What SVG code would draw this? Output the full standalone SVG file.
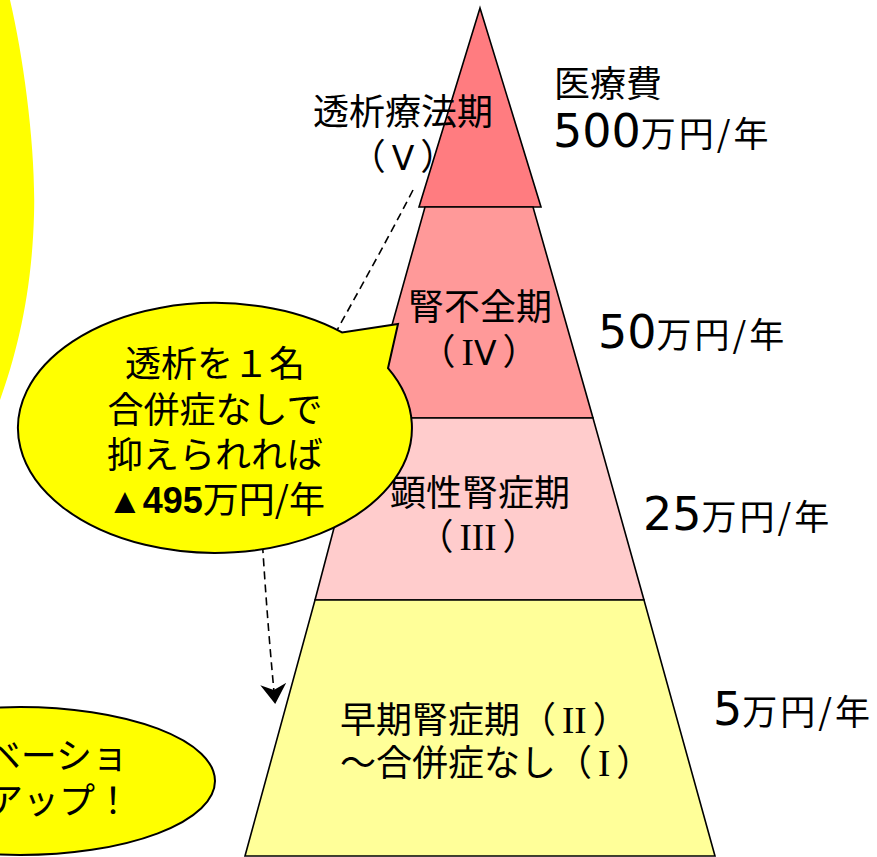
<svg xmlns="http://www.w3.org/2000/svg" width="877" height="857" viewBox="0 0 877 857">
<defs>
<style>
.tier{stroke:#000;stroke-width:1.6;stroke-linejoin:miter}
.jp{font-family:"Noto Sans CJK JP","Noto Sans CJK SC",sans-serif;font-size:36px;fill:#000}
.num{font-family:"DejaVu Sans","Noto Sans CJK JP",sans-serif;font-size:46px}
.unit{font-family:"Noto Sans CJK JP",sans-serif;font-size:35px;letter-spacing:3px}
.bold{font-family:"Liberation Sans","Noto Sans CJK JP",sans-serif;font-weight:bold}
.ri{font-family:"Liberation Serif",serif;font-size:37px}
.rv{font-family:"DejaVu Sans",sans-serif;font-size:33px}
.bubble{fill:#FFFF00;stroke:#000;stroke-width:2}
.conn{fill:none;stroke:#000;stroke-width:1.6;stroke-dasharray:8 5}
</style>
<marker id="stealth" viewBox="0 0 20 26" refX="18" refY="13" markerWidth="20" markerHeight="26" markerUnits="userSpaceOnUse" orient="auto">
<path d="M0,0 L20,13 L0,26 L6,13 Z" fill="#000"/>
</marker>
</defs>
<rect width="877" height="857" fill="#fff"/>

<g id="left-shape">
<path d="M0,0 L10,0 C24,60 36,150 34,215 C32,290 18,350 0,400 Z" fill="#FFFF00"/>
</g>

<g id="tier-dialysis">
<polygon class="tier" points="480,8 541,207 419,207" fill="#FF7C80"/>
</g>
<g id="tier-renal-failure">
<polygon class="tier" points="425,207 533,207 593,418 366,418" fill="#FF9999"/>
<text class="jp" x="480" y="319.5" text-anchor="middle">腎不全期</text>
<text class="jp" x="479" y="365" text-anchor="middle">（<tspan class="ri" dx="6">I</tspan><tspan class="rv">V</tspan><tspan dx="6">）</tspan></text>
</g>
<g id="tier-overt">
<polygon class="tier" points="363,418 593,418 644,600 315,600" fill="#FFCCCC"/>
<text class="jp" x="480" y="505.5" text-anchor="middle">顕性腎症期</text>
<text class="jp" x="478" y="550" text-anchor="middle">（<tspan class="ri" dx="6">III</tspan><tspan dx="6">）</tspan></text>
</g>
<g id="tier-early">
<polygon class="tier" points="315,600 644,600 715,856 245,856" fill="#FFFF99"/>
<text class="jp" x="340" y="732.5">早期腎症期（<tspan class="ri" dx="6">II</tspan><tspan dx="6">）</tspan></text>
<text class="jp" x="340" y="775.5">～合併症なし（<tspan class="ri" dx="6">I</tspan><tspan dx="6">）</tspan></text>
</g>

<g id="label-dialysis">
<text class="jp" x="403" y="124.5" text-anchor="middle">透析療法期</text>
<text class="jp" x="403" y="169.5" text-anchor="middle">（<tspan class="rv" dx="6" font-size="34">V</tspan><tspan dx="6">）</tspan></text>
</g>

<g id="cost-labels">
<text class="jp" x="554" y="96.5">医療費</text>
<text class="jp" x="553" y="147"><tspan class="num">500</tspan><tspan class="unit">万円/年</tspan></text>
<text class="jp" x="598" y="348"><tspan class="num">50</tspan><tspan class="unit">万円/年</tspan></text>
<text class="jp" x="643" y="530"><tspan class="num">25</tspan><tspan class="unit">万円/年</tspan></text>
<text class="jp" x="713" y="725"><tspan class="num">5</tspan><tspan class="unit">万円/年</tspan></text>
</g>

<g id="connectors">
<path class="conn" d="M413,190 C320,370 255,450 263,552 Q268,630 275,702" marker-end="url(#stealth)"/>
</g>

<g id="callout">
<path class="bubble" d="M398,324 L388,368.2 A197,125 0 1 1 342,332.4 Z"/>
<text class="jp" x="215" y="377" text-anchor="middle">透析を１名</text>
<text class="jp" x="215" y="423" text-anchor="middle">合併症なしで</text>
<text class="jp" x="215" y="468" text-anchor="middle">抑えられれば</text>
<text class="jp" x="216" y="513" text-anchor="middle"><tspan class="bold">▲495</tspan>万円/年</text>
</g>

<g id="motivation-bubble">
<ellipse class="bubble" cx="20" cy="781" rx="195" ry="74"/>
<text class="jp" x="128" y="769" text-anchor="end">ベーショ</text>
<text class="jp" x="131" y="814" text-anchor="end">アップ！</text>
</g>
</svg>
